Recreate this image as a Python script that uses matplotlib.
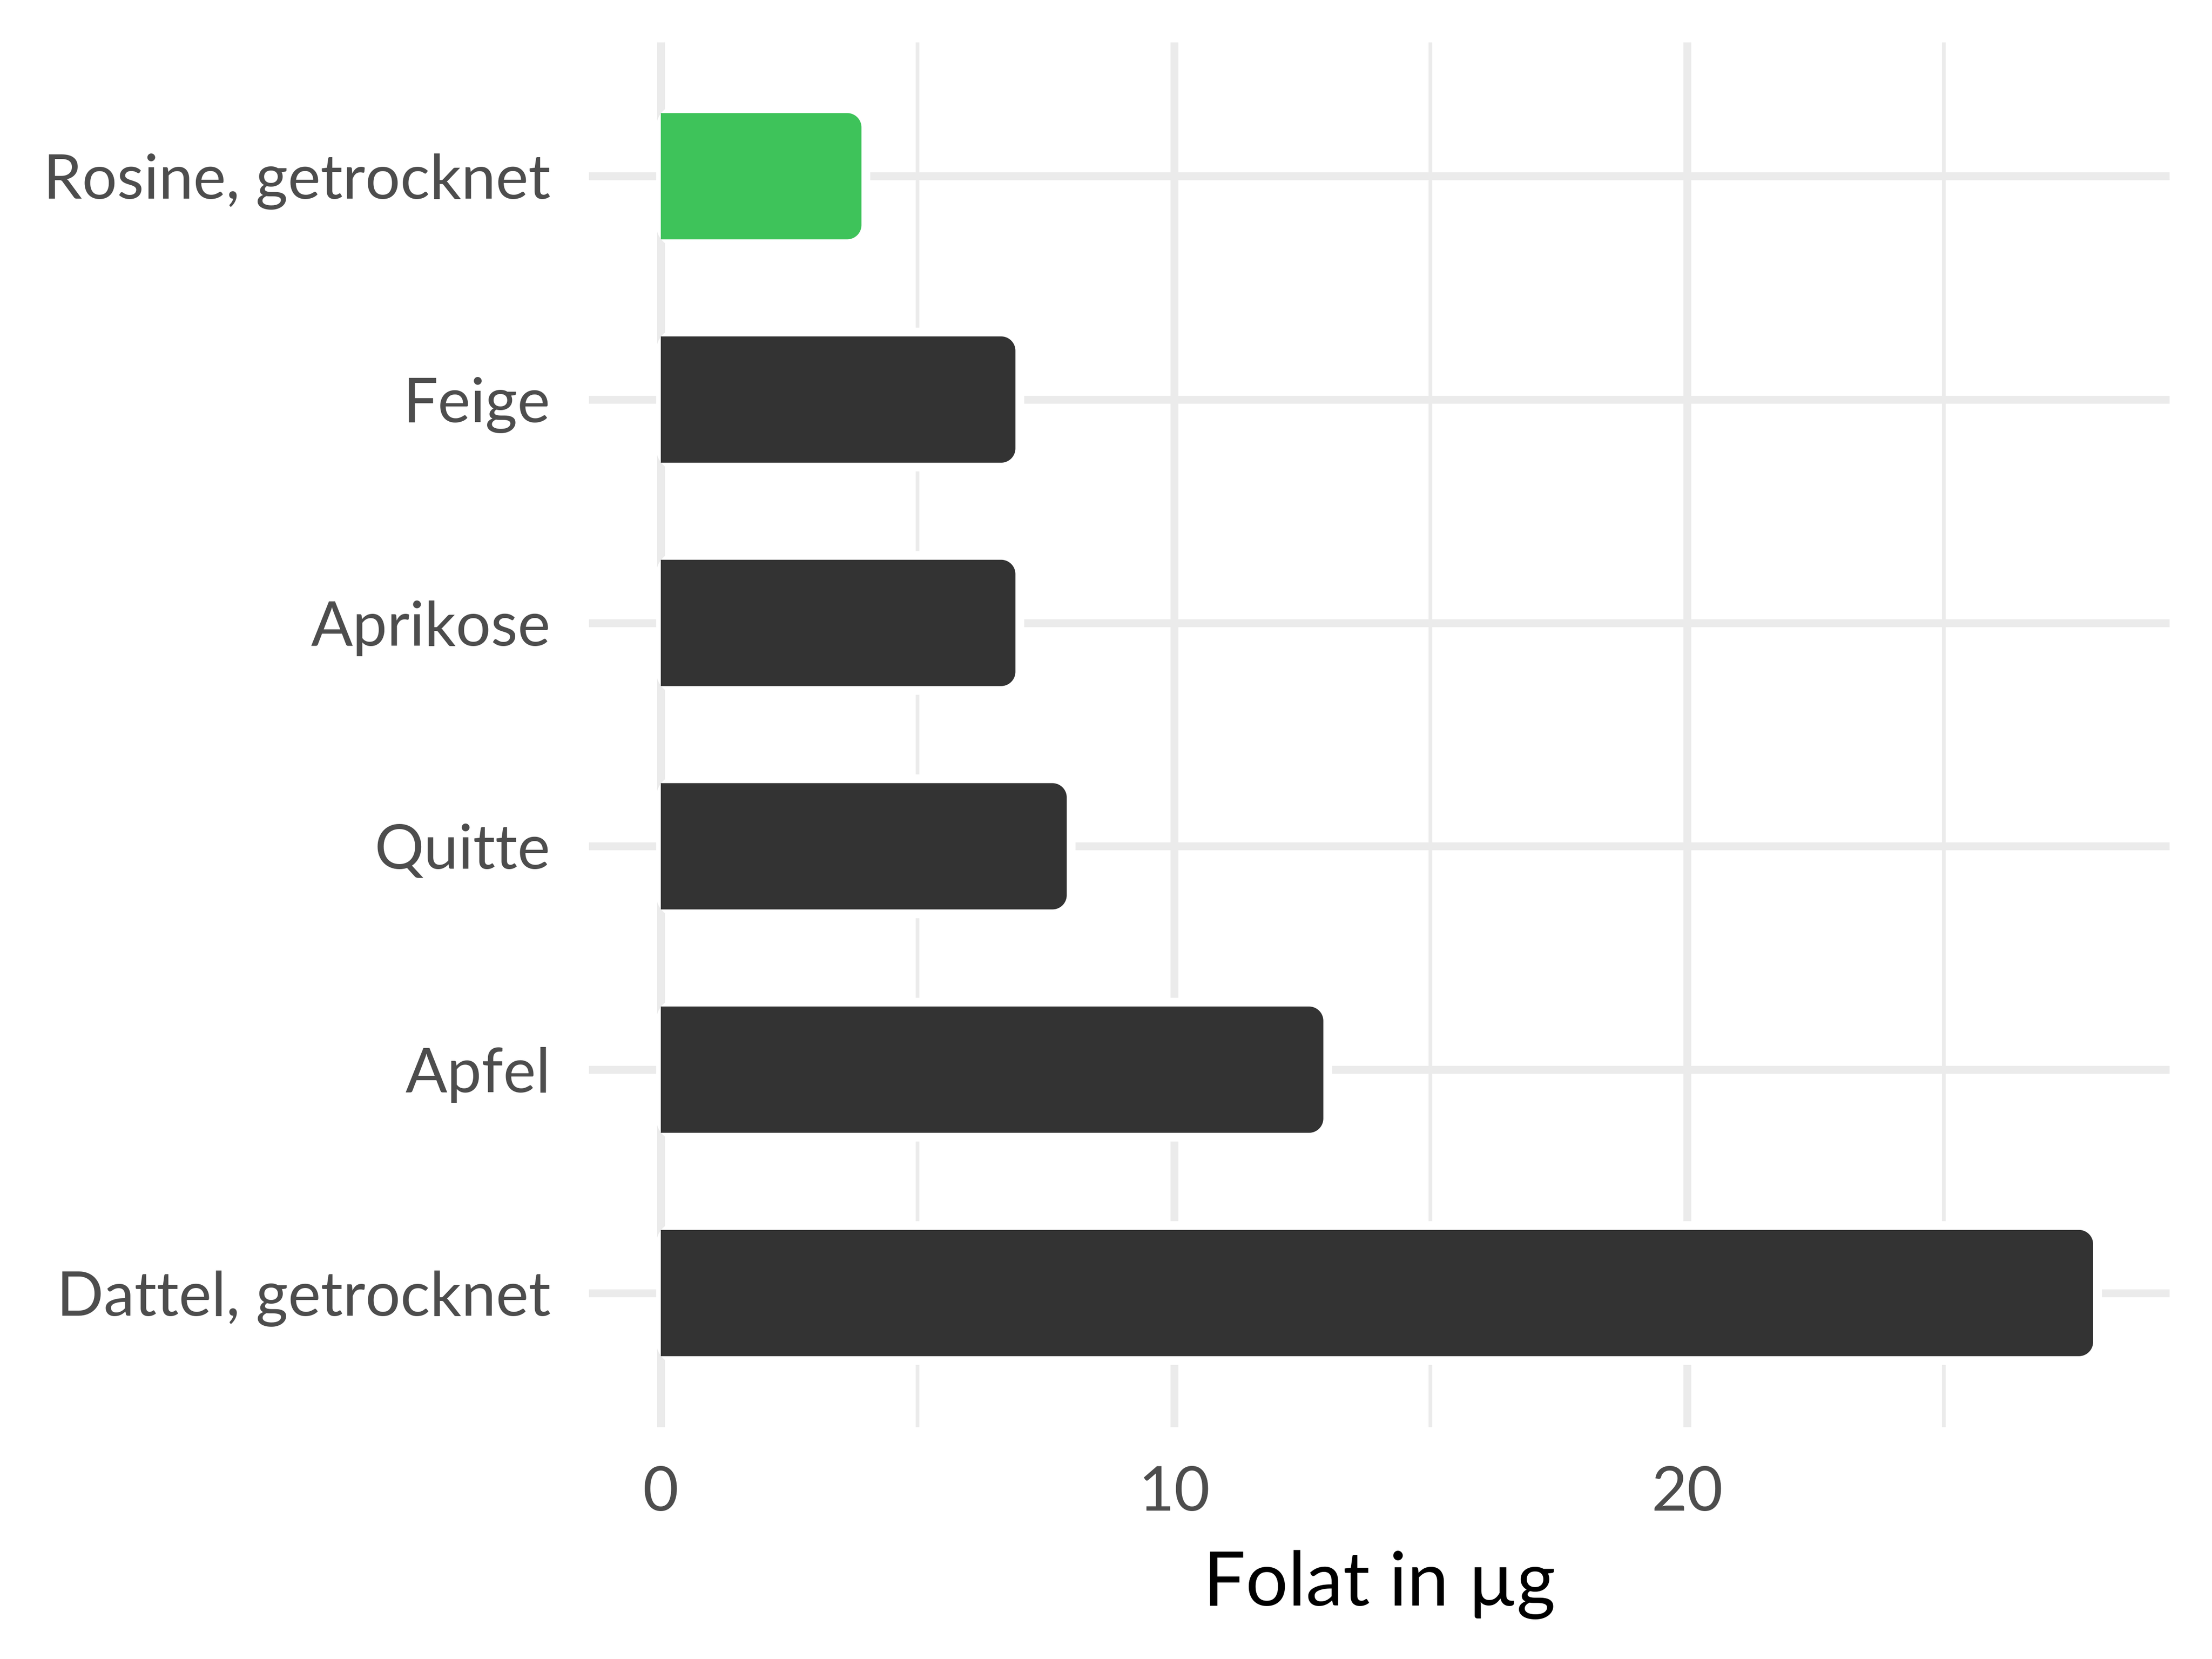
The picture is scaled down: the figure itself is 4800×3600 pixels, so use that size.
import matplotlib
matplotlib.use("Agg")
import matplotlib.pyplot as plt
import numpy as np
from matplotlib.path import Path
from matplotlib.patches import PathPatch

# data, top to bottom as shown in the chart
foods = ["Rosine, getrocknet", "Feige", "Aprikose", "Quitte", "Apfel", "Dattel, getrocknet"]
folate = [4, 7, 7, 8, 13, 28]
highlight = ["Rosine, getrocknet"]
x_ticks = [0, 10, 20]
x_minor = [5, 15, 25]
x_label = "Folat in µg"

GREEN = "#3EC35A"
DARK = "#333333"
GRID = "#EBEBEB"


def rounded_box(x0, x1, y0, y1, rx, ry, round_left=True, n=24):
    """Closed path of a box with elliptic corners (rx, ry in data units)."""
    pts = []
    # top right, then bottom right corner
    a = np.linspace(np.pi / 2, 0, n)
    pts += list(zip(x1 - rx + rx * np.cos(a), y1 - ry + ry * np.sin(a)))
    a = np.linspace(0, -np.pi / 2, n)
    pts += list(zip(x1 - rx + rx * np.cos(a), y0 + ry + ry * np.sin(a)))
    if round_left:
        a = np.linspace(-np.pi / 2, -np.pi, n)
        pts += list(zip(x0 + rx + rx * np.cos(a), y0 + ry + ry * np.sin(a)))
        a = np.linspace(np.pi, np.pi / 2, n)
        pts += list(zip(x0 + rx + rx * np.cos(a), y1 - ry + ry * np.sin(a)))
    else:
        pts += [(x0, y0), (x0, y1)]
    pts.append(pts[0])
    codes = [Path.MOVETO] + [Path.LINETO] * (len(pts) - 2) + [Path.CLOSEPOLY]
    return Path(pts, codes)


plt.rcParams["font.family"] = ["Lato", "DejaVu Sans"]

fig = plt.figure(figsize=(16, 12), dpi=300)
ax = fig.add_axes([0.26625, 0.13981, 0.71458, 0.83477])

n = len(foods)
pos = np.arange(n, 0, -1)
vmax = max(folate)
ax.set_xlim(-0.05 * vmax, 1.05 * vmax)
ax.set_ylim(0.4, n + 0.6)

# pixel -> data scale factors
fig.canvas.draw()
p0 = ax.transData.transform((0, 0))
p1 = ax.transData.transform((1, 1))
px_x = 1.0 / (p1[0] - p0[0])
px_y = 1.0 / (p1[1] - p0[1])

# grid
for v in x_minor:
    ax.axvline(v, color=GRID, lw=1.9, zorder=0)
for v in x_ticks:
    ax.axvline(v, color=GRID, lw=4.1, zorder=0)
for p in pos:
    ax.axhline(p, color=GRID, lw=4.1, zorder=0)

half = 137 * px_y
r = 31
for name, val, p in zip(foods, folate, pos):
    color = GREEN if name in highlight else DARK
    end = val - 10 * px_x
    pad = rounded_box(-10 * px_x, end + 19 * px_x, p - half - 19 * px_y, p + half + 19 * px_y,
                      (r + 19) * px_x, (r + 19) * px_y)
    ax.add_patch(PathPatch(pad, facecolor="white", edgecolor="none", zorder=1))
    box = rounded_box(0, end, p - half, p + half, r * px_x, r * px_y, round_left=False)
    ax.add_patch(PathPatch(box, facecolor=color, edgecolor="none", zorder=2))

ax.set_yticks(pos)
ax.set_yticklabels(foods)
ax.set_xticks(x_ticks)
ax.set_xticklabels([str(v) for v in x_ticks])
ax.tick_params(axis="both", length=0, colors="#4D4D4D", labelsize=32.2)
ax.tick_params(axis="y", pad=20)
ax.tick_params(axis="x", pad=20)
ax.set_xlabel(x_label, fontsize=39, color="black", labelpad=15)

for s in ax.spines.values():
    s.set_visible(False)
ax.set_facecolor("white")
fig.patch.set_facecolor("white")

fig.savefig("out.png", dpi=300)
